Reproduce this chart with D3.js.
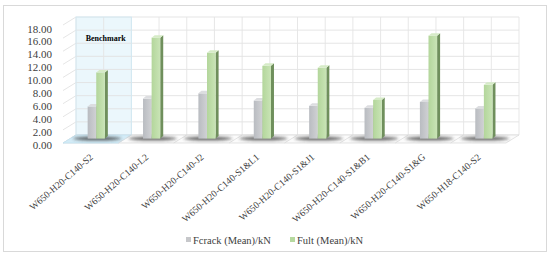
<!DOCTYPE html>
<html><head><meta charset="utf-8">
<script src="https://cdn.jsdelivr.net/npm/d3@7"></script>
<style>body{margin:0;background:#fff}svg{display:block}</style>
</head><body><svg id="c" width="550" height="257"></svg>
<script>
const categories = ["W650-H20-C140-S2","W650-H20-C140-L2","W650-H20-C140-J2","W650-H20-C140-S1&L1","W650-H20-C140-S1&J1","W650-H20-C140-S1&B1","W650-H20-C140-S1&G","W650-H18-C140-S2"];
const fcrack = [4.9, 6.1, 6.9, 5.8, 5.0, 4.7, 5.6, 4.6];
const fult = [10.1, 15.4, 13.1, 11.1, 10.8, 5.9, 15.7, 8.2];
const yTicks = [0,2,4,6,8,10,12,14,16,18];
const seriesNames = ["Fcrack (Mean)/kN","Fult (Mean)/kN"];
const highlightLabel = "Benchmark";

const svg = d3.select("#c");
const serif = "'Liberation Serif','Times New Roman',serif";
const defs = svg.append("defs");
defs.append("filter").attr("id","blur").attr("x","-50%").attr("y","-200%").attr("width","200%").attr("height","500%")
  .append("feGaussianBlur").attr("stdDeviation","1.6");
const gG = defs.append("linearGradient").attr("id","gGreen").attr("x1",0).attr("x2",1);
gG.append("stop").attr("offset","0").attr("stop-color","#b3d69b");
gG.append("stop").attr("offset","1").attr("stop-color","#c9e4b6");
const gR = defs.append("linearGradient").attr("id","gGrey").attr("x1",0).attr("x2",1);
gR.append("stop").attr("offset","0").attr("stop-color","#b9bcc1");
gR.append("stop").attr("offset","1").attr("stop-color","#d0d1d4");

// outer frame
svg.append("rect").attr("x",3.5).attr("y",5.5).attr("width",543).attr("height",246)
  .attr("fill","#fff").attr("stroke","#d9d9d9");

const x = d3.scaleBand().domain(categories).range([76,519]).padding(0);
const y = d3.scaleLinear().domain([0,18]).range([135,17]);
const yLab = d3.scaleLinear().domain([0,18]).range([144.5,28.5]);
const DX = -13, DY = 8; // depth vector back->front
const bw = x.bandwidth();

// highlight back wall
svg.append("rect").attr("x",x(categories[0])).attr("y",y(18)).attr("width",bw).attr("height",y(0)-y(18))
  .attr("fill","#ebf7fc");

// side wall diagonal grid
svg.append("g").selectAll("line").data(yTicks).join("line")
  .attr("x1",76+DX).attr("y1",d=>y(d)+DY).attr("x2",76).attr("y2",d=>y(d))
  .attr("stroke","#dedede").attr("stroke-width",0.8);

// back wall horizontal grid
svg.append("g").selectAll("line").data(yTicks).join("line")
  .attr("x1",76).attr("x2",519).attr("y1",d=>y(d)).attr("y2",d=>y(d))
  .attr("stroke","#e2e2e2").attr("stroke-width",0.9);
// vertical grid at half-bands
const vx = d3.range(0,categories.length*2+1).map(i=>76+i*bw/2);
svg.append("g").selectAll("line").data(vx).join("line")
  .attr("x1",d=>d).attr("x2",d=>d).attr("y1",y(18)).attr("y2",y(0))
  .attr("stroke","#e4e4e4").attr("stroke-width",0.9);
// highlight edges
svg.append("rect").attr("x",x(categories[0])).attr("y",y(18)).attr("width",bw).attr("height",y(0)-y(18))
  .attr("fill","none").attr("stroke","#cfe8f4").attr("stroke-width",0.8);

// floor
const floorPts = [[76,y(0)],[519,y(0)],[519+DX,y(0)+DY],[76+DX,y(0)+DY]];
svg.append("polygon").attr("points",floorPts.map(p=>p.join(",")).join(" "))
  .attr("fill","#fbfbfb").attr("stroke","#dcdcdc").attr("stroke-width",0.8);
const x0 = x(categories[0]);
svg.append("polygon").attr("points",[[x0,y(0)],[x0+bw,y(0)],[x0+bw+DX,y(0)+DY],[x0+DX,y(0)+DY]].map(p=>p.join(",")).join(" "))
  .attr("fill","#d3ebf6").attr("stroke","#c3e2f1").attr("stroke-width",0.8);
svg.append("g").selectAll("line").data(d3.range(1,categories.length)).join("line")
  .attr("x1",i=>76+i*bw).attr("y1",y(0)).attr("x2",i=>76+i*bw+DX).attr("y2",y(0)+DY)
  .attr("stroke","#dcdcdc").attr("stroke-width",0.8);

// bars
const t = 0.45, bdx = DX*t, bdy = DY*t;
const barW = 8.6, sdx = 3, sdy = -2.5, off = 17.5;
const series = [
  {vals:fcrack, front:"url(#gGrey)", side:"#8e9094", top:"#dcdde0"},
  {vals:fult, front:"url(#gGreen)", side:"#6f8f5c", top:"#d6ebc7"}
];
const gB = svg.append("g");
categories.forEach((c,i)=>{
  const cx = x(c)+off+bdx+barW;
  gB.append("ellipse").attr("cx",cx+1).attr("cy",y(0)+bdy).attr("rx",24).attr("ry",2)
    .attr("fill","#333").attr("opacity",0.75).attr("filter","url(#blur)");
});
categories.forEach((c,i)=>{
  series.forEach((s,k)=>{
    const xl = x(c)+off+bdx+k*barW, xr = xl+barW;
    const yt = y(s.vals[i])+bdy, yb = y(0)+bdy;
    gB.append("polygon").attr("points",[[xr,yt],[xr+sdx,yt+sdy],[xr+sdx,yb+sdy],[xr,yb]].map(p=>p.join(",")).join(" "))
      .attr("fill",s.side);
    gB.append("rect").attr("x",xl).attr("y",yt).attr("width",barW).attr("height",yb-yt).attr("fill",s.front);
    gB.append("polygon").attr("points",[[xl,yt],[xr,yt],[xr+sdx,yt+sdy],[xl+sdx,yt+sdy]].map(p=>p.join(",")).join(" "))
      .attr("fill",s.top);
  });
});

// y axis labels
const ya = svg.append("g").attr("transform","translate(52,0)")
  .call(d3.axisLeft(yLab).tickValues(yTicks).tickFormat(d3.format(".2f")).tickSize(0).tickPadding(0));
ya.select(".domain").remove();
ya.selectAll("text").attr("font-family",serif).attr("font-size",11).attr("fill","#404040");

// benchmark label
svg.append("text").attr("x",x0+bw/2+2).attr("y",41).attr("text-anchor","middle")
  .attr("font-family",serif).attr("font-weight","bold").attr("font-size",8).attr("fill","#000").text(highlightLabel);

// category labels
svg.append("g").selectAll("text").data(categories).join("text")
  .attr("transform",d=>`translate(${x(d)+bw/2+DX+3},${158}) rotate(-41)`)
  .attr("text-anchor","end").attr("font-family",serif).attr("font-size",9.6).attr("fill","#404040")
  .text(d=>d);

// legend
const legX = [186,290];
const legC = ["#c6c7ca","#b6d99f"];
const lg = svg.append("g");
seriesNames.forEach((n,k)=>{
  lg.append("rect").attr("x",legX[k]).attr("y",237).attr("width",5).attr("height",5).attr("fill",legC[k]);
  lg.append("text").attr("x",legX[k]+7).attr("y",243.5).attr("font-family",serif).attr("font-size",10.5)
    .attr("fill","#404040").text(n);
});
</script></body></html>
